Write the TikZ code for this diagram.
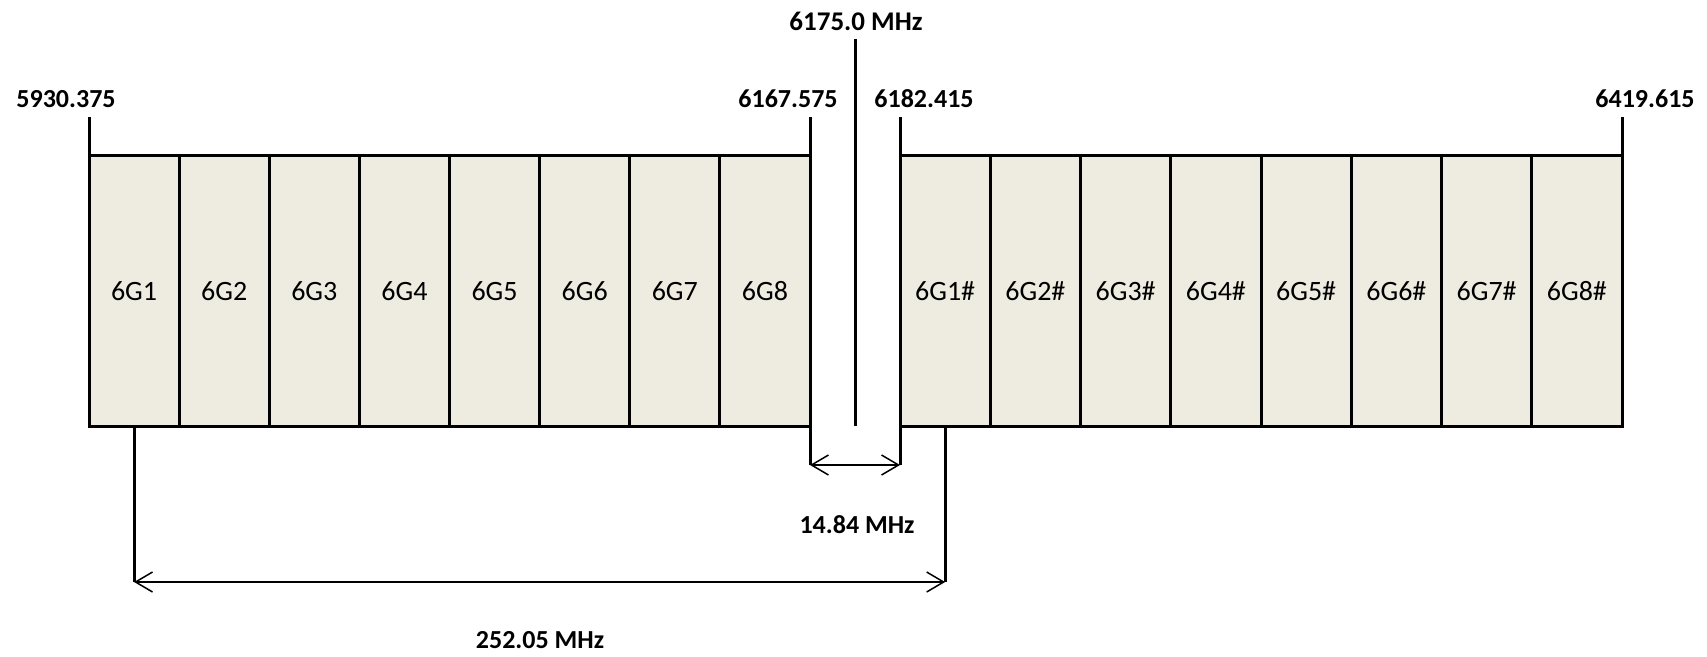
\documentclass[tikz,border=0pt]{standalone}
\usepackage{fontspec}
\setmainfont{Carlito}
\usetikzlibrary{arrows.meta}
\definecolor{cellfill}{HTML}{EEECE1}
\tikzset{
  cell/.style={draw=black, fill=cellfill, line width=3pt, inner sep=0pt, outer sep=0pt, minimum height=271pt, font=\fontsize{28}{32}\selectfont},
  thick line/.style={line width=3pt},
  dim/.style={line width=1.5pt, {Straight Barb[length=17pt,width=20pt]}-{Straight Barb[length=17pt,width=20pt]}},
  lab/.style={anchor=base, inner sep=0pt, font=\fontsize{26}{30}\selectfont\bfseries}
}
\begin{document}
\begin{tikzpicture}[x=1pt,y=-1pt]
\useasboundingbox (0,0) rectangle (1707,656);
% left group
\foreach \i in {1,...,8} {
  \node[cell, minimum width=90.125pt] (c\i) at ({89+(\i-0.5)*90.125},291.2) {6G\i};
}
% right group
\foreach \i in {1,...,8} {
  \node[cell, minimum width=90.25pt] (d\i) at ({900+(\i-0.5)*90.25},291.2) {6G\i\#};
}
% ticks above
\coordinate (t1) at (89,117);
\coordinate (t2) at (810,117);
\coordinate (t3) at (900,117);
\coordinate (t4) at (1622,117);
\draw[thick line] (c1.north west) -- (t1);
\draw[thick line] (c8.north east) -- (t2);
\draw[thick line] (d1.north west) -- (t3);
\draw[thick line] (d8.north east) -- (t4);
% centre line
\coordinate (m1) at (855,39);
\coordinate (m2) at (855,426);
\draw[thick line] (m1) -- (m2);
% gap dimension
\coordinate (b1) at (810,465);
\coordinate (b2) at (900,465);
\draw[thick line] (c8.south east) -- (b1);
\draw[thick line] (d1.south west) -- (b2);
\draw[dim] (b1) -- (b2);
% spacing dimension
\coordinate (a1) at (c1.south |- 0,582);
\coordinate (a2) at (d1.south |- 0,582);
\draw[thick line] (c1.south) -- (a1);
\draw[thick line] (d1.south) -- (a2);
\draw[dim] (a1) -- (a2);
% labels
\node[lab] (l1) at (66,107) {5930.375};
\node[lab] (l2) at (788,107) {6167.575};
\node[lab] (l3) at (924,107) {6182.415};
\node[lab] (l4) at (1645,107) {6419.615};
\node[lab, font=\fontsize{27}{31}\selectfont\bfseries] (l5) at (856,30) {6175.0 MHz};
\node[lab] (l6) at (857,533) {14.84 MHz};
\node[lab] (l7) at (540,648) {252.05 MHz};
\end{tikzpicture}
\end{document}
